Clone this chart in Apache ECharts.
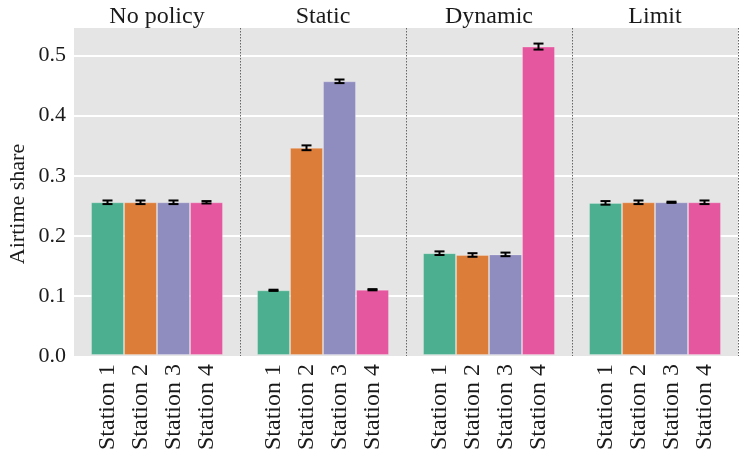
<!DOCTYPE html>
<html>
<head>
<meta charset="utf-8">
<script src="https://cdn.jsdelivr.net/npm/echarts@6/dist/echarts.min.js"></script>
<style>html,body{margin:0;padding:0;background:#fff}#c{width:750px;height:453px}</style>
</head>
<body>
<div id="c"></div>
<script>
const categories = ['Station 1', 'Station 2', 'Station 3', 'Station 4'];
const policies = ['No policy', 'Static', 'Dynamic', 'Limit'];
const noPolicyVals = [0.255, 0.255, 0.255, 0.255];
const staticVals = [0.108, 0.346, 0.457, 0.109];
const dynamicVals = [0.170, 0.167, 0.168, 0.515];
const limitVals = [0.254, 0.255, 0.255, 0.255];
const noPolicyErr = [0.003, 0.003, 0.003, 0.002];
const staticErr = [0.001, 0.004, 0.003, 0.001];
const dynamicErr = [0.003, 0.003, 0.003, 0.005];
const limitErr = [0.003, 0.003, 0.001, 0.003];
const yTicks = [0.0, 0.1, 0.2, 0.3, 0.4, 0.5];
const yTitle = 'Airtime share';

const values = [noPolicyVals, staticVals, dynamicVals, limitVals];
const errors = [noPolicyErr, staticErr, dynamicErr, limitErr];
const colors = ['#4caf8f', '#dc7d3a', '#8f8cbf', '#e5579e'];
const FONT = 'Liberation Serif';
const L = 74, TOP = 28, H = 328, PW = 166, INSET = 17;
const YMAX = 0.546;

const grids = [{left: L, top: TOP, width: PW * 4, height: H, show: true, backgroundColor: '#e5e5e5', borderWidth: 0}];
const xAxes = [{
  gridIndex: 0, type: 'value', min: 0, max: 4, interval: 1,
  axisLine: {show: false}, axisTick: {show: false}, axisLabel: {show: false},
  splitLine: {show: true, showMinLine: false, lineStyle: {color: '#666', type: [1.5, 1.5], width: 1}}
}];
const yAxes = [{
  gridIndex: 0, type: 'value', min: 0, max: YMAX, interval: 0.1,
  axisLine: {show: false}, axisTick: {show: false},
  axisLabel: {show: true, showMaxLabel: false, margin: 8, fontFamily: FONT, fontSize: 22, color: '#1a1a1a',
    formatter: v => yTicks.some(t => Math.abs(t - v) < 1e-9) ? v.toFixed(1) : ''},
  splitLine: {show: true, showMinLine: false, showMaxLine: false, lineStyle: {color: '#ffffff', width: 2}}
}];
const series = [];
const graphics = [{
  type: 'text', x: 18, y: 204, rotation: Math.PI / 2,
  style: {text: yTitle, textAlign: 'center', textVerticalAlign: 'middle', font: '22px "' + FONT + '"', fill: '#1a1a1a'}
}];

policies.forEach((p, i) => {
  const gi = i + 1;
  grids.push({left: L + PW * i + INSET, top: TOP, width: PW - 2 * INSET, height: H});
  xAxes.push({
    gridIndex: gi, type: 'category', data: categories,
    axisLine: {show: false}, axisTick: {show: false},
    axisLabel: {rotate: 90, interval: 0, margin: 9, fontFamily: FONT, fontSize: 24, color: '#1a1a1a'}
  });
  yAxes.push({gridIndex: gi, type: 'value', min: 0, max: YMAX, show: false, splitLine: {show: false}});
  series.push({
    type: 'bar', xAxisIndex: gi, yAxisIndex: gi, barCategoryGap: '0%',
    data: values[i].map((v, k) => ({value: v, itemStyle: {color: colors[k], borderColor: 'rgba(255,255,255,0.25)', borderWidth: 1}})),
    z: 2
  });
  series.push({
    type: 'custom', xAxisIndex: gi, yAxisIndex: gi, z: 5,
    data: values[i].map((v, k) => [k, v, errors[i][k]]),
    encode: {x: 0, y: 1},
    renderItem: (params, api) => {
      const x = api.value(0), m = api.value(1), e = api.value(2);
      const t = api.coord([x, m + e]);
      const b = api.coord([x, m - e]);
      const hw = 5;
      const st = {stroke: '#000', lineWidth: 2};
      return {type: 'group', children: [
        {type: 'line', shape: {x1: t[0], y1: t[1], x2: b[0], y2: b[1]}, style: st},
        {type: 'line', shape: {x1: t[0] - hw, y1: t[1], x2: t[0] + hw, y2: t[1]}, style: st},
        {type: 'line', shape: {x1: b[0] - hw, y1: b[1], x2: b[0] + hw, y2: b[1]}, style: st}
      ]};
    }
  });
  graphics.push({
    type: 'text', x: L + PW * i + PW / 2, y: 17,
    style: {text: p, textAlign: 'center', textVerticalAlign: 'middle', font: '24px "' + FONT + '"', fill: '#1a1a1a'}
  });
});

const chart = echarts.init(document.getElementById('c'), null, {renderer: 'canvas'});
chart.setOption({
  animation: false,
  backgroundColor: '#ffffff',
  grid: grids, xAxis: xAxes, yAxis: yAxes, series: series, graphic: graphics
});
</script>
</body>
</html>
